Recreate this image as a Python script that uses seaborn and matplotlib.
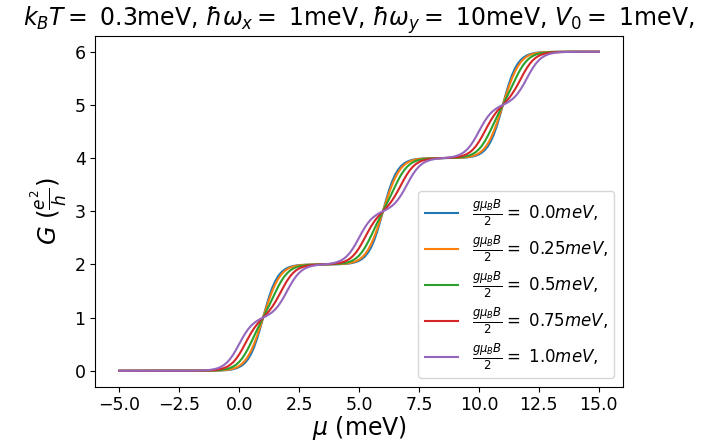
import numpy as np
import pandas as pd
import matplotlib
matplotlib.use("Agg")
import matplotlib.pyplot as plt
import seaborn as sns

# Zeeman energies gμB B / 2 (meV)
zeeman = ["0.0", "0.25", "0.5", "0.75", "1.0"]

# conductance G (e^2/h) read at mu = -5 ... 15 meV every 0.125 meV
G_00 = [0, 0, 0, 0, 0, 0, 0, 0, 0, 0, 0, 0,
        0, 0, 0, 0, 0, 0, 0, 0, 0, 0, 0, 0,
        0.000, 0.000, 0.000, 0.000, 0.001, 0.001, 0.001, 0.002, 0.003, 0.004, 0.006, 0.009,
        0.013, 0.020, 0.031, 0.046, 0.069, 0.103, 0.152, 0.221, 0.318, 0.445, 0.606, 0.795,
        1.000, 1.205, 1.394, 1.555, 1.682, 1.779, 1.848, 1.897, 1.931, 1.954,
        1.969, 1.980, 1.987, 1.991, 1.994, 1.996, 1.998, 1.998, 1.999, 2.000,
        2.000, 2.000, 2.001, 2.002, 2.002, 2.004, 2.006, 2.009, 2.013, 2.020,
        2.031, 2.046, 2.069, 2.103, 2.152, 2.221, 2.318, 2.445, 2.606, 2.795,
        3.000, 3.205, 3.394, 3.555, 3.682, 3.779, 3.848, 3.897, 3.931, 3.954,
        3.969, 3.980, 3.987, 3.991, 3.994, 3.996, 3.998, 3.998, 3.999, 4.000,
        4.000, 4.000, 4.001, 4.002, 4.002, 4.004, 4.006, 4.009, 4.013, 4.020,
        4.031, 4.046, 4.069, 4.103, 4.152, 4.221, 4.318, 4.445, 4.606, 4.795,
        5.000, 5.205, 5.394, 5.555, 5.682, 5.779, 5.848, 5.897, 5.931, 5.954, 5.969,
        5.980, 5.987, 5.991, 5.994, 5.996, 5.997, 5.998, 5.999, 5.999, 6.000,
        6.0, 6.0, 6.0, 6.0, 6.0, 6.0, 6.0, 6.0, 6.0, 6.0, 6.0, 6.0]
G_025 = [0, 0, 0, 0, 0, 0, 0, 0, 0, 0, 0, 0,
         0, 0, 0, 0, 0, 0, 0, 0, 0, 0, 0, 0,
         0.000, 0.000, 0.000, 0.000, 0.001, 0.001, 0.002, 0.002, 0.004, 0.005, 0.008, 0.012,
         0.018, 0.027, 0.041, 0.061, 0.091, 0.134, 0.193, 0.274, 0.379, 0.508, 0.659, 0.825,
         1.000, 1.175, 1.341, 1.492, 1.621, 1.726, 1.807, 1.866, 1.909, 1.939,
         1.959, 1.973, 1.982, 1.988, 1.992, 1.995, 1.997, 1.998, 1.999, 1.999,
         2.000, 2.001, 2.001, 2.002, 2.003, 2.005, 2.008, 2.012, 2.018, 2.027,
         2.041, 2.061, 2.091, 2.134, 2.193, 2.274, 2.379, 2.508, 2.659, 2.825,
         3.000, 3.175, 3.341, 3.492, 3.621, 3.726, 3.807, 3.866, 3.909, 3.939,
         3.959, 3.973, 3.982, 3.988, 3.992, 3.995, 3.997, 3.998, 3.999, 3.999,
         4.000, 4.001, 4.001, 4.002, 4.003, 4.005, 4.008, 4.012, 4.018, 4.027,
         4.041, 4.061, 4.091, 4.134, 4.193, 4.274, 4.379, 4.508, 4.659, 4.825,
         5.000, 5.175, 5.341, 5.492, 5.621, 5.726, 5.807, 5.866, 5.909, 5.939, 5.959,
         5.973, 5.982, 5.988, 5.992, 5.995, 5.997, 5.998, 5.999, 5.999, 5.999,
         6.0, 6.0, 6.0, 6.0, 6.0, 6.0, 6.0, 6.0, 6.0, 6.0, 6.0, 6.0]
G_05 = [0, 0, 0, 0, 0, 0, 0, 0, 0, 0, 0, 0,
        0, 0, 0, 0, 0, 0, 0, 0, 0, 0, 0, 0,
        0.000, 0.000, 0.001, 0.001, 0.001, 0.002, 0.003, 0.005, 0.007, 0.011, 0.016, 0.024,
        0.036, 0.053, 0.079, 0.115, 0.166, 0.233, 0.318, 0.420, 0.534, 0.654, 0.773, 0.888,
        1.000, 1.112, 1.227, 1.346, 1.466, 1.580, 1.682, 1.767, 1.834, 1.885,
        1.921, 1.947, 1.964, 1.976, 1.984, 1.990, 1.993, 1.996, 1.998, 1.999,
        2.000, 2.001, 2.002, 2.004, 2.007, 2.010, 2.016, 2.024, 2.036, 2.053,
        2.079, 2.115, 2.166, 2.233, 2.318, 2.420, 2.534, 2.654, 2.773, 2.888,
        3.000, 3.112, 3.227, 3.346, 3.466, 3.580, 3.682, 3.767, 3.834, 3.885,
        3.921, 3.947, 3.964, 3.976, 3.984, 3.990, 3.993, 3.996, 3.998, 3.999,
        4.000, 4.001, 4.002, 4.004, 4.007, 4.010, 4.016, 4.024, 4.036, 4.053,
        4.079, 4.115, 4.166, 4.233, 4.318, 4.420, 4.534, 4.654, 4.773, 4.888,
        5.000, 5.112, 5.227, 5.346, 5.466, 5.580, 5.682, 5.767, 5.834, 5.885, 5.921,
        5.947, 5.964, 5.976, 5.984, 5.990, 5.993, 5.995, 5.997, 5.998, 5.999,
        5.999, 5.999, 6.0, 6.0, 6.0, 6.0, 6.0, 6.0, 6.0, 6.0, 6.0, 6.0]
G_075 = [0, 0, 0, 0, 0, 0, 0, 0, 0, 0, 0, 0,
         0, 0, 0, 0, 0, 0, 0, 0, 0, 0, 0, 0,
         0.001, 0.001, 0.001, 0.002, 0.003, 0.004, 0.007, 0.010, 0.015, 0.023, 0.035, 0.052,
         0.076, 0.112, 0.160, 0.225, 0.306, 0.402, 0.507, 0.613, 0.712, 0.800, 0.876, 0.941,
         1.000, 1.059, 1.124, 1.200, 1.288, 1.387, 1.493, 1.598, 1.694, 1.775,
         1.840, 1.889, 1.924, 1.949, 1.966, 1.977, 1.985, 1.991, 1.995, 1.998,
         2.000, 2.002, 2.005, 2.009, 2.015, 2.023, 2.034, 2.051, 2.076, 2.111,
         2.160, 2.225, 2.306, 2.402, 2.507, 2.613, 2.712, 2.800, 2.876, 2.941,
         3.000, 3.059, 3.124, 3.200, 3.288, 3.387, 3.493, 3.598, 3.694, 3.775,
         3.840, 3.889, 3.924, 3.949, 3.966, 3.977, 3.985, 3.991, 3.995, 3.998,
         4.000, 4.002, 4.005, 4.009, 4.015, 4.023, 4.034, 4.051, 4.076, 4.111,
         4.160, 4.225, 4.306, 4.402, 4.507, 4.613, 4.712, 4.800, 4.876, 4.941,
         5.000, 5.059, 5.124, 5.200, 5.288, 5.387, 5.493, 5.598, 5.694, 5.775, 5.840,
         5.888, 5.924, 5.948, 5.965, 5.977, 5.985, 5.990, 5.993, 5.996, 5.997,
         5.998, 5.999, 5.999, 6.0, 6.0, 6.0, 6.0, 6.0, 6.0, 6.0, 6.0, 6.0]
G_10 = [0, 0, 0, 0, 0, 0, 0, 0, 0, 0, 0, 0,
        0, 0, 0, 0, 0, 0, 0, 0, 0, 0, 0, 0.001,
        0.001, 0.002, 0.003, 0.004, 0.007, 0.010, 0.015, 0.023, 0.034, 0.051, 0.076, 0.111,
        0.159, 0.223, 0.303, 0.398, 0.501, 0.605, 0.700, 0.782, 0.848, 0.899, 0.939, 0.972,
        1.000, 1.028, 1.061, 1.101, 1.152, 1.218, 1.300, 1.395, 1.499, 1.602,
        1.697, 1.777, 1.841, 1.890, 1.925, 1.949, 1.967, 1.979, 1.988, 1.994,
        2.000, 2.006, 2.012, 2.021, 2.033, 2.051, 2.075, 2.110, 2.159, 2.223,
        2.303, 2.398, 2.501, 2.605, 2.700, 2.782, 2.848, 2.899, 2.939, 2.972,
        3.000, 3.028, 3.061, 3.101, 3.152, 3.218, 3.300, 3.395, 3.499, 3.602,
        3.697, 3.777, 3.841, 3.890, 3.925, 3.949, 3.967, 3.979, 3.988, 3.994,
        4.000, 4.006, 4.012, 4.021, 4.033, 4.051, 4.075, 4.110, 4.159, 4.223,
        4.303, 4.398, 4.501, 4.605, 4.700, 4.782, 4.848, 4.899, 4.939, 4.972,
        5.000, 5.028, 5.061, 5.101, 5.152, 5.218, 5.300, 5.395, 5.499, 5.602, 5.697,
        5.777, 5.841, 5.889, 5.924, 5.949, 5.966, 5.977, 5.985, 5.990, 5.993,
        5.996, 5.997, 5.998, 5.999, 5.999, 6.0, 6.0, 6.0, 6.0, 6.0, 6.0, 6.0]

series = [G_00, G_025, G_05, G_075, G_10]
for g in series:
    assert len(g) == 161, len(g)

# chemical potential samples (meV)
mu = np.linspace(-5, 15, 161)

colors = sns.color_palette("tab10", 5)

fig = plt.figure(figsize=(7.07, 4.41), dpi=100)
ax = fig.add_axes([0.1348, 0.1231, 0.7460, 0.7957])

for z, g, c in zip(zeeman, series, colors):
    label = r"$\frac{g\mu_BB}{2}=$ " + z + r"$meV$,"
    sns.lineplot(x=mu, y=g, color=c, label=label, ax=ax, linewidth=1.5)

ax.set_xticks([-5.0, -2.5, 0.0, 2.5, 5.0, 7.5, 10.0, 12.5, 15.0])
ax.tick_params(labelsize=12.5)
ax.set_xlabel(r"$\mu$ (meV)", fontsize=17, labelpad=0)
ax.set_ylabel(r"$G$ ($\frac{e^2}{h}$)", fontsize=17.5)
ax.set_title(r"$k_BT=$ 0.3meV, $\hbar\omega_x=$ 1meV, $\hbar\omega_y=$ 10meV, $V_0=$ 1meV,",
             fontsize=17)
ax.legend(loc="lower right", fontsize=12, labelspacing=0.35)

fig.savefig("out.png", dpi=100)
